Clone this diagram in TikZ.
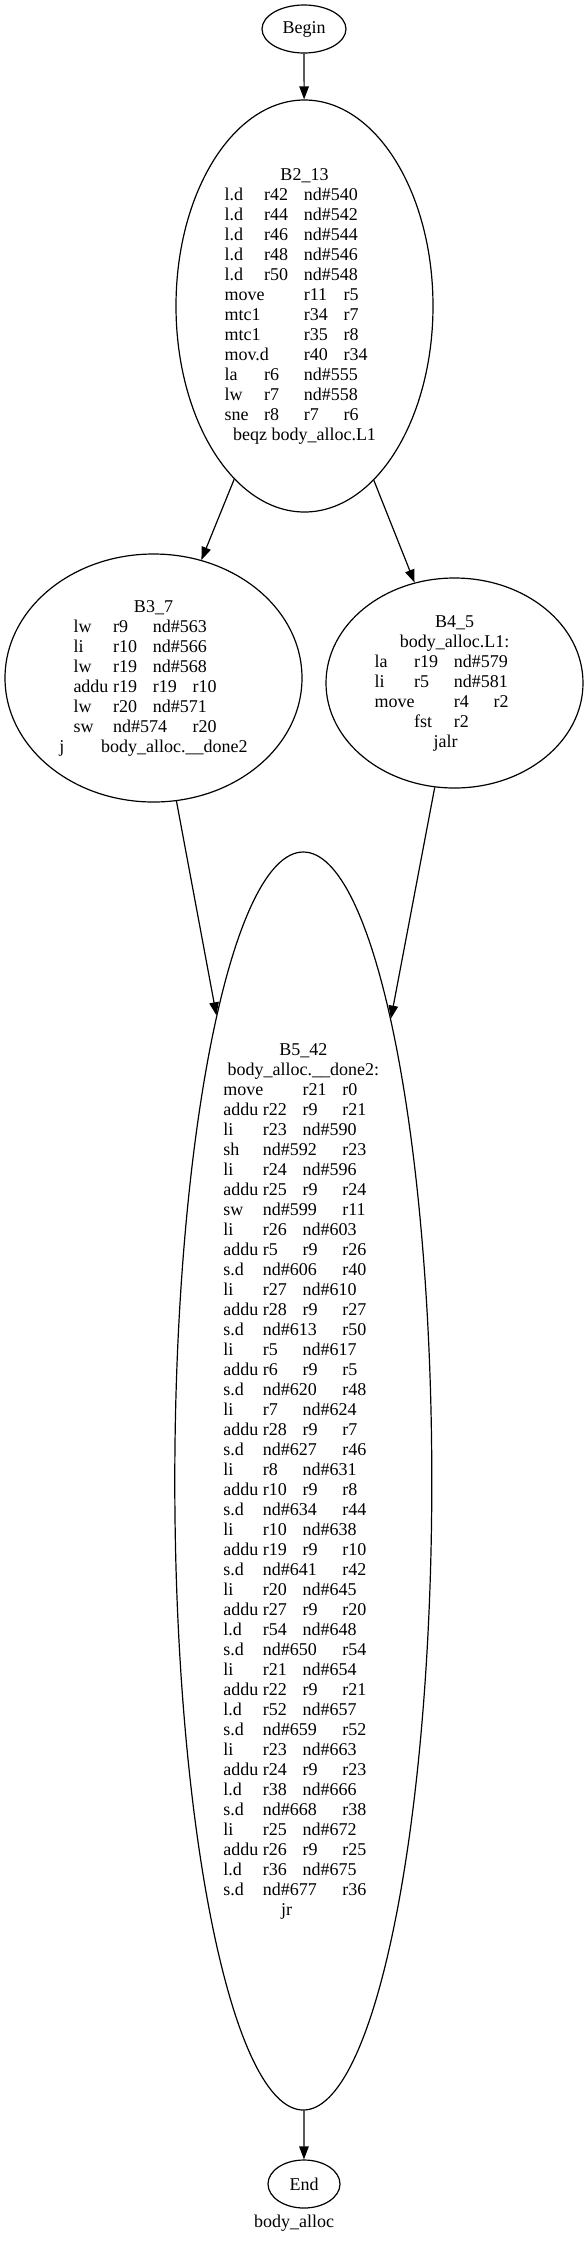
\documentclass[tikz,border=0pt]{standalone}
\usepackage{fontspec}
\setmainfont{Liberation Serif}
\usetikzlibrary{shapes.geometric,arrows.meta}

\newlength{\tabw}\setlength{\tabw}{39.7pt}
\newcommand{\tb}[1]{\makebox[\tabw][l]{#1}}
\newcommand{\tbb}[1]{\makebox[2\tabw][l]{#1}}
\newcommand{\codeline}[1]{\makebox[160pt][l]{#1}}

\tikzset{every picture/.style={line width=1.2pt}}
\tikzset{
  block/.style={draw, ellipse, inner sep=0pt, align=center, font=\fontsize{18}{20}\selectfont},
  flow/.style={-{Triangle[length=13pt,width=9.5pt]}}
}

\begin{document}
\begin{tikzpicture}[x=1pt,y=1pt,yscale=-1,xscale=1]
\useasboundingbox (0,0) rectangle (588,2244);

\node (begin) at (304,29) [block, minimum width=84pt, minimum height=48pt] {Begin};

\node (b2) at (304.5,306) [block, minimum width=257pt, minimum height=412pt] {B2\_13\\
\codeline{\tb{l.d}\tb{r42}nd\#540}\\
\codeline{\tb{l.d}\tb{r44}nd\#542}\\
\codeline{\tb{l.d}\tb{r46}nd\#544}\\
\codeline{\tb{l.d}\tb{r48}nd\#546}\\
\codeline{\tb{l.d}\tb{r50}nd\#548}\\
\codeline{\tbb{move}\tb{r11}r5}\\
\codeline{\tbb{mtc1}\tb{r34}r7}\\
\codeline{\tbb{mtc1}\tb{r35}r8}\\
\codeline{\tbb{mov.d}\tb{r40}r34}\\
\codeline{\tb{la}\tb{r6}nd\#555}\\
\codeline{\tb{lw}\tb{r7}nd\#558}\\
\codeline{\tb{sne}\tb{r8}\tb{r7}r6}\\
beqz body\_alloc.L1};

\node (b3) at (153.5,678) [block, minimum width=297pt, minimum height=248pt] {B3\_7\\
\codeline{\tb{lw}\tb{r9}nd\#563}\\
\codeline{\tb{li}\tb{r10}nd\#566}\\
\codeline{\tb{lw}\tb{r19}nd\#568}\\
\codeline{\tb{addu}\tb{r19}\tb{r19}r10}\\
\codeline{\tb{lw}\tb{r20}nd\#571}\\
\codeline{\tb{sw}\tbb{nd\#574}r20}\\
\makebox[41.7pt][l]{j}body\_alloc.\_\_done2};

\node (b4) at (454.5,683) [block, minimum width=257pt, minimum height=210pt] {B4\_5\\
body\_alloc.L1:\\
\codeline{\tb{la}\tb{r19}nd\#579}\\
\codeline{\tb{li}\tb{r5}nd\#581}\\
\codeline{\tbb{move}\tb{r4}r2}\\
\codeline{\tb{}\tb{fst}r2}\\
\codeline{\hspace*{59pt}jalr}};

\node (b5) at (303.3,1481) [block, minimum width=257pt, minimum height=1258pt] {B5\_42\\
body\_alloc.\_\_done2:\\
\codeline{\tbb{move}\tb{r21}r0}\\
\codeline{\tb{addu}\tb{r22}\tb{r9}r21}\\
\codeline{\tb{li}\tb{r23}nd\#590}\\
\codeline{\tb{sh}\tbb{nd\#592}r23}\\
\codeline{\tb{li}\tb{r24}nd\#596}\\
\codeline{\tb{addu}\tb{r25}\tb{r9}r24}\\
\codeline{\tb{sw}\tbb{nd\#599}r11}\\
\codeline{\tb{li}\tb{r26}nd\#603}\\
\codeline{\tb{addu}\tb{r5}\tb{r9}r26}\\
\codeline{\tb{s.d}\tbb{nd\#606}r40}\\
\codeline{\tb{li}\tb{r27}nd\#610}\\
\codeline{\tb{addu}\tb{r28}\tb{r9}r27}\\
\codeline{\tb{s.d}\tbb{nd\#613}r50}\\
\codeline{\tb{li}\tb{r5}nd\#617}\\
\codeline{\tb{addu}\tb{r6}\tb{r9}r5}\\
\codeline{\tb{s.d}\tbb{nd\#620}r48}\\
\codeline{\tb{li}\tb{r7}nd\#624}\\
\codeline{\tb{addu}\tb{r28}\tb{r9}r7}\\
\codeline{\tb{s.d}\tbb{nd\#627}r46}\\
\codeline{\tb{li}\tb{r8}nd\#631}\\
\codeline{\tb{addu}\tb{r10}\tb{r9}r8}\\
\codeline{\tb{s.d}\tbb{nd\#634}r44}\\
\codeline{\tb{li}\tb{r10}nd\#638}\\
\codeline{\tb{addu}\tb{r19}\tb{r9}r10}\\
\codeline{\tb{s.d}\tbb{nd\#641}r42}\\
\codeline{\tb{li}\tb{r20}nd\#645}\\
\codeline{\tb{addu}\tb{r27}\tb{r9}r20}\\
\codeline{\tb{l.d}\tb{r54}nd\#648}\\
\codeline{\tb{s.d}\tbb{nd\#650}r54}\\
\codeline{\tb{li}\tb{r21}nd\#654}\\
\codeline{\tb{addu}\tb{r22}\tb{r9}r21}\\
\codeline{\tb{l.d}\tb{r52}nd\#657}\\
\codeline{\tb{s.d}\tbb{nd\#659}r52}\\
\codeline{\tb{li}\tb{r23}nd\#663}\\
\codeline{\tb{addu}\tb{r24}\tb{r9}r23}\\
\codeline{\tb{l.d}\tb{r38}nd\#666}\\
\codeline{\tb{s.d}\tbb{nd\#668}r38}\\
\codeline{\tb{li}\tb{r25}nd\#672}\\
\codeline{\tb{addu}\tb{r26}\tb{r9}r25}\\
\codeline{\tb{l.d}\tb{r36}nd\#675}\\
\codeline{\tb{s.d}\tbb{nd\#677}r36}\\
\codeline{\hspace*{57.7pt}jr}};

\node (end) at (304,2184) [block, minimum width=72pt, minimum height=48pt] {End};
\node (title) at (294,2227) [anchor=base, inner sep=0pt, font=\fontsize{18}{20}\selectfont] {body\_alloc};

\draw [flow] (begin) -- (b2);
\draw [flow] (b2) -- (b3);
\draw [flow] (b2) -- (b4);
\draw [flow] (b3) -- (b5);
\draw [flow] (b4) -- (b5);
\draw [flow] (b5) -- (end);
\end{tikzpicture}
\end{document}
